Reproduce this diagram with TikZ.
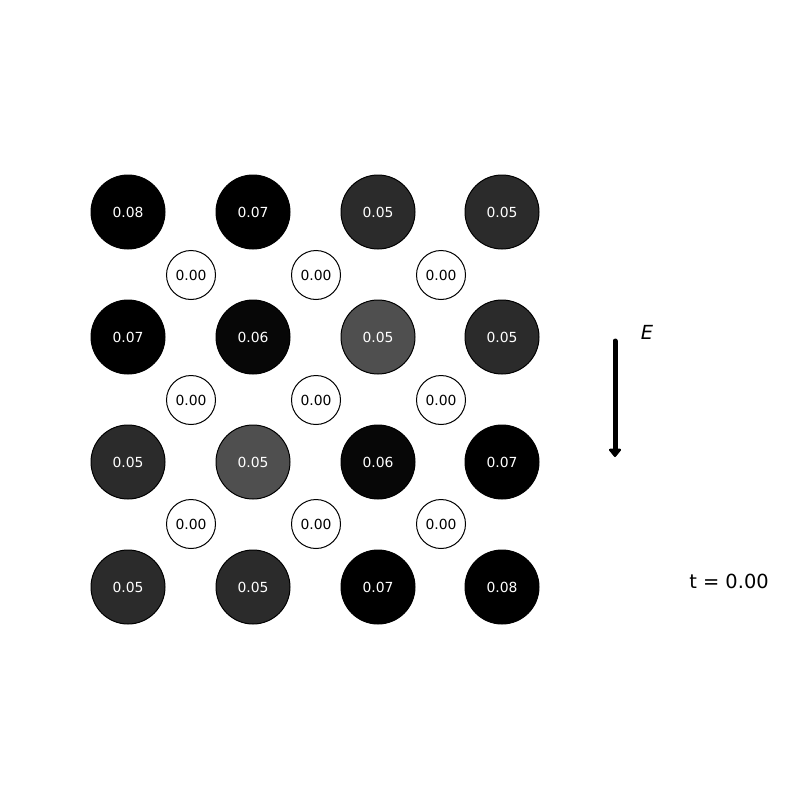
\documentclass[tikz,border=0pt]{standalone}
\usepackage{fontspec}
\setmainfont{DejaVu Sans}
\usetikzlibrary{arrows.meta}
\definecolor{gA}{HTML}{000000}
\definecolor{gB}{HTML}{070707}
\definecolor{gC}{HTML}{2B2B2B}
\definecolor{gD}{HTML}{4F4F4F}
\tikzset{
  big/.style={circle,draw=black,line width=1bp,minimum size=74bp,inner sep=0pt,text=white,font=\fontsize{13.9bp}{16bp}\selectfont},
  small/.style={circle,draw=black,line width=1bp,fill=white,minimum size=49bp,inner sep=0pt,text=black,font=\fontsize{13.9bp}{16bp}\selectfont},
}
\begin{document}
\begin{tikzpicture}[x=1bp,y=-1bp]
\useasboundingbox[fill=white] (0,0) rectangle (800,800);
% big sites
\node[big,fill=gA] (b11) at (128,212) {0.08};
\node[big,fill=gA] (b12) at (253,212) {0.07};
\node[big,fill=gC] (b13) at (378,212) {0.05};
\node[big,fill=gC] (b14) at (502,212) {0.05};
\node[big,fill=gA] (b21) at (128,337) {0.07};
\node[big,fill=gB] (b22) at (253,337) {0.06};
\node[big,fill=gD] (b23) at (378,337) {0.05};
\node[big,fill=gC] (b24) at (502,337) {0.05};
\node[big,fill=gC] (b31) at (128,462) {0.05};
\node[big,fill=gD] (b32) at (253,462) {0.05};
\node[big,fill=gB] (b33) at (378,462) {0.06};
\node[big,fill=gA] (b34) at (502,462) {0.07};
\node[big,fill=gC] (b41) at (128,587) {0.05};
\node[big,fill=gC] (b42) at (253,587) {0.05};
\node[big,fill=gA] (b43) at (378,587) {0.07};
\node[big,fill=gA] (b44) at (502,587) {0.08};
% small sites
\node[small] (s11) at (191,275) {0.00};
\node[small] (s12) at (316,275) {0.00};
\node[small] (s13) at (441,275) {0.00};
\node[small] (s21) at (191,400) {0.00};
\node[small] (s22) at (316,400) {0.00};
\node[small] (s23) at (441,400) {0.00};
\node[small] (s31) at (191,524) {0.00};
\node[small] (s32) at (316,524) {0.00};
\node[small] (s33) at (441,524) {0.00};
% field arrow
\coordinate (e1) at (615,341);
\coordinate (e2) at (615,457);
\draw[line width=5bp,line cap=round,-{Triangle[length=9bp,width=14bp,round]}] (e1) -- (e2);
\node[font=\fontsize{19.4bp}{22bp}\selectfont\itshape] (E) at (647,332) {E};
\node[font=\fontsize{19.4bp}{22bp}\selectfont] (t) at (729,581) {t = 0.00};
\end{tikzpicture}
\end{document}
